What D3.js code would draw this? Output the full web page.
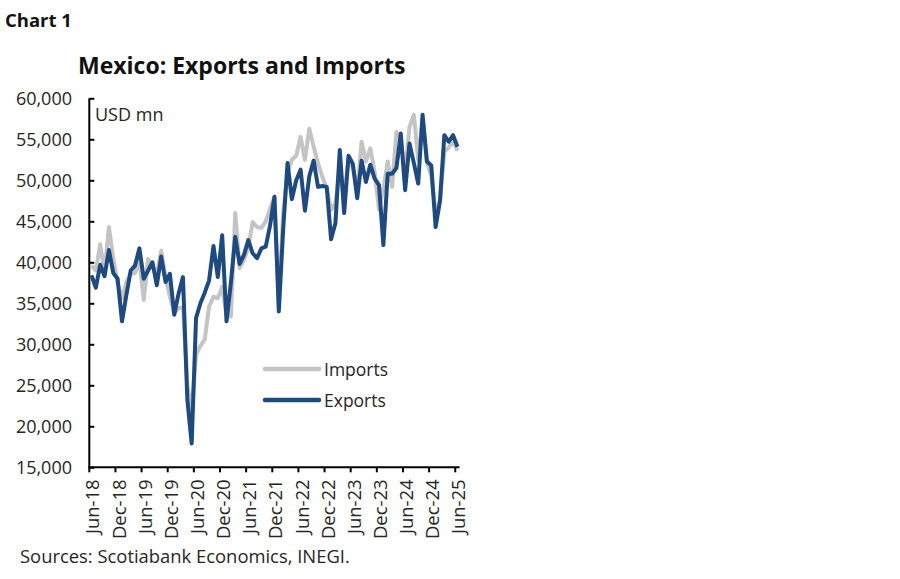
<!DOCTYPE html>
<html><head><meta charset="utf-8">
<script src="https://cdn.jsdelivr.net/npm/d3@7"></script>
<style>body{margin:0;background:#fff;} svg{display:block;font-family:"Open Sans","Noto Sans",sans-serif;}</style>
</head><body><svg id="c" width="900" height="579"></svg>
<script>
const tickLabels = ["Jun-18","Dec-18","Jun-19","Dec-19","Jun-20","Dec-20","Jun-21","Dec-21","Jun-22","Dec-22","Jun-23","Dec-23","Jun-24","Dec-24","Jun-25"];
const yTicks = [15000,20000,25000,30000,35000,40000,45000,50000,55000,60000];
const exportsData = [38.4,36.9,39.7,38.3,41.5,38.7,38.0,32.8,36.0,39.0,39.6,41.7,38.0,39.0,40.0,37.2,40.7,37.6,38.6,33.6,36.2,38.2,23.3,17.9,33.2,35.0,36.3,37.8,42.0,38.2,43.3,32.8,37.5,43.1,39.8,40.9,42.7,41.1,40.5,41.7,41.9,44.5,48.0,34.0,44.0,52.1,47.7,50.0,51.3,46.3,50.5,52.4,49.2,49.3,49.2,42.8,44.8,53.7,46.0,53.0,52.0,47.8,52.4,49.8,51.9,50.2,49.4,42.1,50.8,50.8,51.5,55.7,48.8,54.5,52.1,49.6,58.0,52.3,51.8,44.3,47.5,55.5,54.7,55.5,54.1];
const importsData = [39.6,39.0,42.2,38.8,44.3,40.5,37.4,35.6,37.6,38.6,38.7,40.2,35.4,40.4,39.5,38.5,41.4,38.2,35.8,33.8,34.4,34.5,25.0,22.0,28.7,29.8,30.6,34.6,35.8,35.6,37.0,33.5,33.4,46.0,39.3,40.3,41.8,44.9,44.3,44.2,45.0,46.5,48.0,35.0,46.0,51.0,52.5,53.0,55.3,52.5,56.3,54.1,52.1,50.4,49.0,46.4,47.2,51.7,48.0,52.5,51.5,48.5,54.7,52.3,53.9,51.0,46.4,49.0,52.3,49.2,55.9,55.0,51.0,56.5,58.0,52.5,57.5,52.3,50.5,46.0,47.5,53.5,54.0,54.8,53.6];

const svg = d3.select("#c");
const pL = 89.3, pR = 459.6, pT = 98.3, pB = 467.3;
const n = exportsData.length;
const x = d3.scaleLinear().domain([-0.5, n - 0.5]).range([pL, pR]);
const y = d3.scaleLinear().domain([15000, 60000]).range([pB, pT]);
const txt = "#262626";

svg.append("text").attr("x", 5).attr("y", 26.5).attr("font-size", 18.5).attr("font-weight", 700).attr("fill", "#111").text("Chart 1");
svg.append("text").attr("x", 78).attr("y", 74).attr("font-size", 23).attr("font-weight", 700).attr("fill", "#111").text("Mexico: Exports and Imports");

// y axis
const yAxis = d3.axisRight(y).tickValues(yTicks).tickSize(5).tickFormat("");
const gy = svg.append("g").attr("transform", `translate(${pL},0)`).call(yAxis);
gy.select(".domain").attr("stroke", "#000").attr("stroke-width", 2).attr("d", `M0,${pT}V${pB}`);
gy.selectAll(".tick line").attr("stroke", "#000").attr("stroke-width", 2);
svg.append("g").selectAll("text").data(yTicks).join("text")
  .attr("x", 72).attr("y", d => y(d) + 6.5).attr("text-anchor", "end")
  .attr("font-size", 18).attr("fill", txt).text(d => d3.format(",")(d));

// x axis
const tickIdx = tickLabels.map((_, k) => k * 6);
const gx = svg.append("g").attr("transform", `translate(0,${pB})`);
gx.append("line").attr("x1", pL - 1).attr("x2", pR).attr("y1", 0).attr("y2", 0).attr("stroke", "#000").attr("stroke-width", 2);
gx.selectAll("line.t").data(tickIdx).join("line").attr("class", "t")
  .attr("x1", d => x(d - 0.5)).attr("x2", d => x(d - 0.5)).attr("y1", 0).attr("y2", 5)
  .attr("stroke", "#000").attr("stroke-width", 2);
gx.selectAll("text").data(tickLabels).join("text")
  .attr("transform", (d, k) => `translate(${x(tickIdx[k]) + 8},12) rotate(-90)`)
  .attr("text-anchor", "end").attr("font-size", 18.5).attr("fill", txt).text(d => d);

svg.append("text").attr("x", 95).attr("y", 121).attr("font-size", 18).attr("fill", txt).text("USD mn");

const line = d3.line().x((d, i) => x(i)).y(d => y(d * 1000));
svg.append("path").datum(importsData).attr("d", line).attr("fill", "none").attr("stroke", "#c4c4c4").attr("stroke-width", 4).attr("stroke-linejoin", "round");
svg.append("path").datum(exportsData).attr("d", line).attr("fill", "none").attr("stroke", "#1f4a80").attr("stroke-width", 4).attr("stroke-linejoin", "round");

// legend
const legend = [{name: "Imports", color: "#c4c4c4", yy: 369}, {name: "Exports", color: "#1f4a80", yy: 400}];
const lg = svg.append("g");
legend.forEach(l => {
  lg.append("line").attr("x1", 265).attr("x2", 319).attr("y1", l.yy).attr("y2", l.yy).attr("stroke", l.color).attr("stroke-width", 4.5).attr("stroke-linecap", "round");
  lg.append("text").attr("x", 324).attr("y", l.yy + 6.5).attr("font-size", 17.5).attr("fill", txt).text(l.name);
});

svg.append("text").attr("x", 20).attr("y", 563).attr("font-size", 18.4).attr("fill", txt).text("Sources: Scotiabank Economics, INEGI.");
</script></body></html>
